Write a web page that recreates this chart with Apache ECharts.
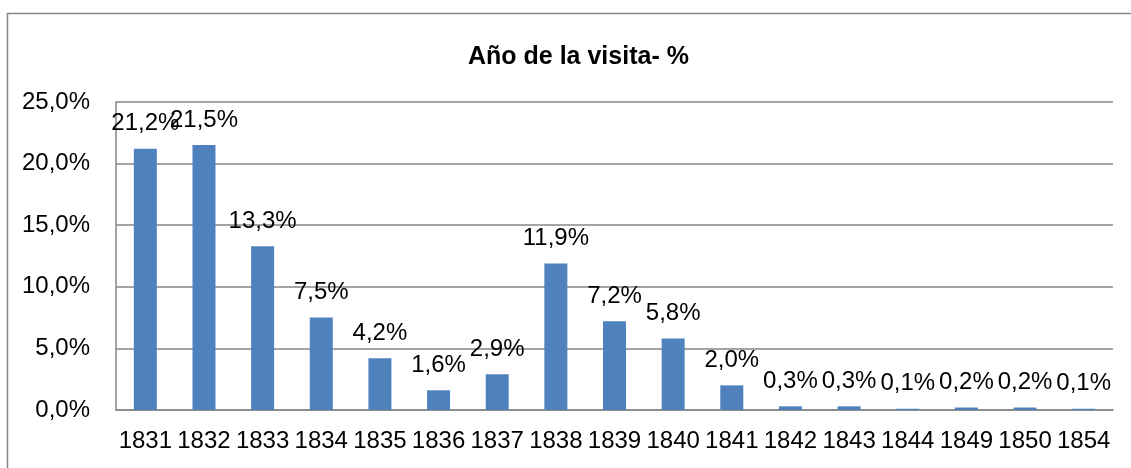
<!DOCTYPE html>
<html>
<head>
<meta charset="utf-8">
<script src="https://cdn.jsdelivr.net/npm/echarts@6/dist/echarts.min.js"></script>
<style>html,body{margin:0;padding:0;background:#fff}#c{width:1131px;height:468px}</style>
</head>
<body>
<div id="c"></div>
<script>
const years = ['1831','1832','1833','1834','1835','1836','1837','1838','1839','1840','1841','1842','1843','1844','1849','1850','1854'];
const percents = [21.2, 21.5, 13.3, 7.5, 4.2, 1.6, 2.9, 11.9, 7.2, 5.8, 2.0, 0.3, 0.3, 0.1, 0.2, 0.2, 0.1];
const titleText = 'Año de la visita- %';

const FONT = "'Liberation Sans Narrow', 'Liberation Sans', sans-serif";
const fmt = v => v.toFixed(1).replace('.', ',') + '%';
const chart = echarts.init(document.getElementById('c'));
chart.setOption({
  animation: false,
  title: {
    text: titleText, left: 463, top: 40,
    textStyle: { fontFamily: FONT, fontSize: 25, fontWeight: 'bold', color: '#000' }
  },
  graphic: [{
    type: 'rect', shape: { x: 7.5, y: 13.5, width: 1300, height: 600 },
    style: { fill: 'none', stroke: '#868686', lineWidth: 1.5 }, silent: true
  }],
  grid: { left: 116, right: 18, top: 102, bottom: 58 },
  xAxis: {
    type: 'category', data: years,
    axisLine: { lineStyle: { color: '#868686', width: 1.5 } },
    axisTick: { show: false },
    axisLabel: { interval: 0, fontFamily: FONT, fontSize: 24, color: '#000', margin: 19 }
  },
  yAxis: {
    type: 'value', min: 0, max: 25, interval: 5,
    axisLine: { show: true, lineStyle: { color: '#868686', width: 1.5 } },
    axisTick: { show: false },
    splitLine: { lineStyle: { color: '#868686', width: 1.5 } },
    axisLabel: { fontFamily: FONT, fontSize: 24, color: '#000', margin: 26, formatter: fmt }
  },
  series: [{
    type: 'bar', data: percents, barWidth: 23,
    itemStyle: { color: '#4F81BD' },
    label: { show: true, position: 'top', distance: 13, fontFamily: FONT, fontSize: 24, color: '#000',
      formatter: p => fmt(p.value) }
  }]
});
</script>
</body>
</html>
